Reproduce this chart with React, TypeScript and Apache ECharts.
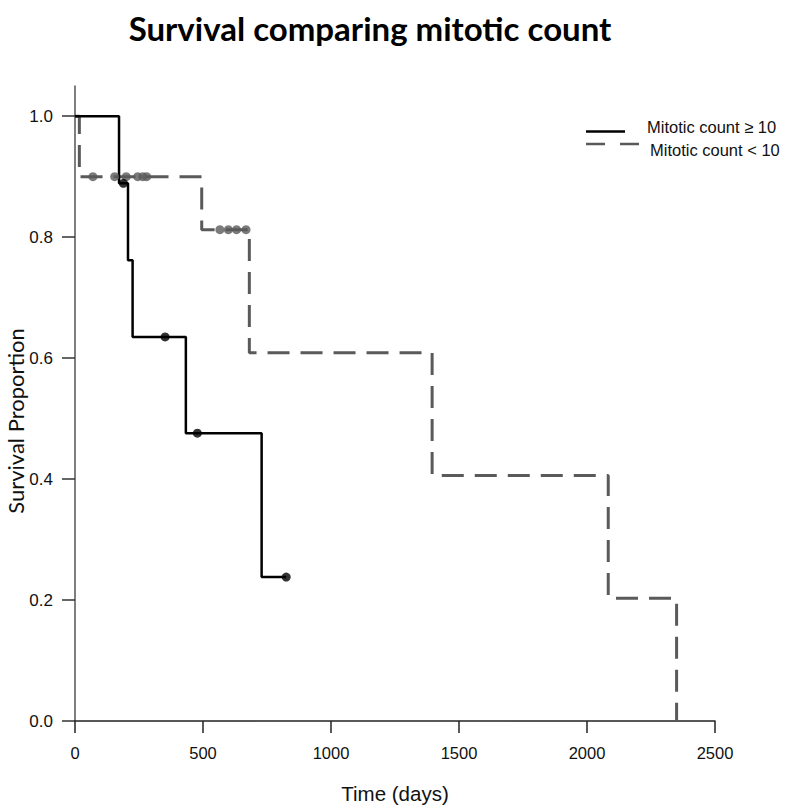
import React, { useEffect, useRef } from "react";
import * as echarts from "echarts";

// ---- data ----
const titleText = "Survival comparing mitotic count";
const xName = "Time (days)";
const yName = "Survival Proportion";
const seriesHigh = "Mitotic count ≥ 10";
const seriesLow = "Mitotic count < 10";

const xTicks = [0, 500, 1000, 1500, 2000, 2500];
const yTicks = [0, 0.2, 0.4, 0.6, 0.8, 1.0];

// Kaplan-Meier steps (time, survival after event)
const highTimes = [0, 172, 207, 225, 433, 729, 825];
const highSurv = [1.0, 0.889, 0.762, 0.635, 0.476, 0.238, 0.238];
const highCensorTimes = [189, 352, 478, 825];
const highCensorSurv = [0.889, 0.635, 0.476, 0.238];

const lowTimes = [0, 17, 495, 681, 1395, 2083, 2350];
const lowSurv = [1.0, 0.9, 0.8125, 0.609, 0.406, 0.203, 0.0];
const lowCensorTimes = [70, 155, 200, 245, 265, 280, 566, 599, 631, 668];
const lowCensorSurv = [0.9, 0.9, 0.9, 0.9, 0.9, 0.9, 0.8125, 0.8125, 0.8125, 0.8125];

const zip = (a: number[], b: number[]) => a.map((v, i) => [v, b[i]]);

const BLACK = "#000000";
const GRAY = "#5a5a5a";
const SANS = "Liberation Sans";
const HUMAN = "Lato";

export default function App() {
  const ref = useRef<HTMLDivElement>(null);
  useEffect(() => {
    if (!ref.current) return;
    document.body.style.margin = "0";
    const chart = echarts.init(ref.current, undefined, { renderer: "svg" });
    chart.setOption({
      animation: false,
      backgroundColor: "#ffffff",
      grid: { left: 75, right: 72, top: 86, bottom: 83.5, containLabel: false },
      xAxis: {
        type: "value",
        min: 0,
        max: 2500,
        interval: 500,
        name: xName,
        nameLocation: "middle",
        nameGap: 62,
        nameTextStyle: { fontFamily: SANS, fontSize: 20.5, color: "#111" },
        axisLine: { show: true, onZero: false, lineStyle: { color: "#222", width: 1.5 } },
        axisTick: { show: true, length: 12, customValues: xTicks, lineStyle: { color: "#222", width: 1.5 } },
        axisLabel: {
          customValues: xTicks,
          fontFamily: SANS,
          fontSize: 16.5,
          color: "#111",
          margin: 23,
          formatter: (v: number) => String(v),
        },
        splitLine: { show: false },
      },
      yAxis: {
        type: "value",
        min: 0,
        max: 1.05,
        axisLine: { show: true, onZero: false, lineStyle: { color: "#555", width: 1.5 } },
        axisTick: { show: true, length: 13, customValues: yTicks, lineStyle: { color: "#333", width: 1.5 } },
        axisLabel: {
          customValues: yTicks,
          fontFamily: SANS,
          fontSize: 17,
          color: "#111",
          margin: 22,
          formatter: (v: number) => v.toFixed(1),
        },
        splitLine: { show: false },
      },
      series: [
        {
          name: seriesLow,
          type: "line",
          step: "end",
          data: zip(lowTimes, lowSurv),
          showSymbol: false,
          symbol: "none",
          lineStyle: { color: GRAY, width: 3, type: [22, 11] },
          z: 2,
        },
        {
          name: seriesHigh,
          type: "line",
          step: "end",
          data: zip(highTimes, highSurv),
          showSymbol: false,
          symbol: "none",
          lineStyle: { color: BLACK, width: 2.5 },
          z: 3,
        },
        {
          name: seriesLow + " censored",
          type: "scatter",
          data: zip(lowCensorTimes, lowCensorSurv),
          symbol: "circle",
          symbolSize: 9,
          itemStyle: { color: GRAY },
          z: 4,
        },
        {
          name: seriesHigh + " censored",
          type: "scatter",
          data: zip(highCensorTimes, highCensorSurv),
          symbol: "circle",
          symbolSize: 9,
          itemStyle: { color: BLACK },
          z: 5,
        },
      ],
      graphic: [
        {
          type: "text",
          x: 370,
          y: 28,
          style: {
            text: titleText,
            fontFamily: HUMAN,
            fontWeight: "bold",
            fontSize: 33,
            fill: "#000",
            align: "center",
            verticalAlign: "middle",
          },
        },
        {
          type: "text",
          x: 15,
          y: 421,
          rotation: Math.PI / 2,
          style: {
            text: yName,
            fontFamily: HUMAN,
            fontSize: 22,
            fill: "#111",
            align: "center",
            verticalAlign: "middle",
          },
        },
        {
          type: "line",
          shape: { x1: 586, y1: 131.5, x2: 625, y2: 131.5 },
          style: { stroke: BLACK, lineWidth: 2.5 },
        },
        {
          type: "text",
          x: 647,
          y: 127,
          style: { text: seriesHigh, fontFamily: SANS, fontSize: 16.5, fill: "#111", align: "left", verticalAlign: "middle" },
        },
        {
          type: "line",
          shape: { x1: 586, y1: 144, x2: 642, y2: 144 },
          style: { stroke: GRAY, lineWidth: 2.5, lineDash: [19, 15] },
        },
        {
          type: "text",
          x: 650,
          y: 150,
          style: { text: seriesLow, fontFamily: SANS, fontSize: 16.5, fill: "#111", align: "left", verticalAlign: "middle" },
        },
      ],
    });
    return () => chart.dispose();
  }, []);
  return <div ref={ref} style={{ width: 787, height: 809, position: "absolute", left: 0, top: 0 }} />;
}
